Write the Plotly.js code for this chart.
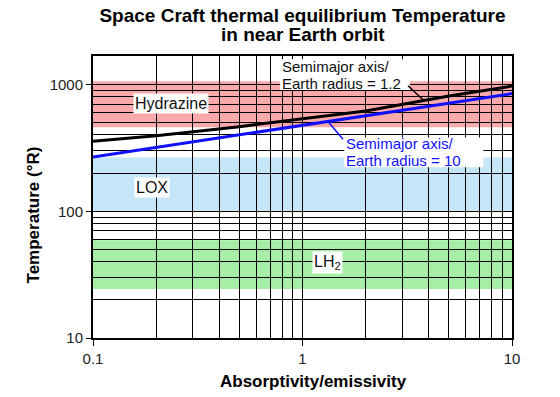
<!DOCTYPE html>
<html>
<head>
<meta charset="utf-8">
<script src="https://cdn.plot.ly/plotly-3.0.1.min.js"></script>
<style>html,body{margin:0;padding:0;background:#fff;}#chart{width:560px;height:397px;}</style>
</head>
<body>
<div id="chart"></div>
<script>
// ---- data ----
var ratio = [0.1, 0.2, 0.5, 1, 2, 5, 10];                 // absorptivity / emissivity
var tempRadius12 = [357, 395, 465, 533, 618, 812, 972];     // °R, semimajor axis / Earth radius = 1.2
var tempRadius10 = [268, 319, 401, 477, 567, 713, 848];     // °R, semimajor axis / Earth radius = 10

var bandNames = ['Hydrazine', 'LOX', 'LH<sub>2</sub>'];
var bandLow  = [460, 101, 24.4];
var bandHigh = [1060, 265, 59];

var xTickVals = [0.1, 1, 10];
var xTickText = ['0.1', '1', '10'];
var yTickVals = [10, 100, 1000];
var yTickText = ['10', '100', '1000'];

// ---- styles ----
var bandFill = ['#f9a9a9', '#c4e6f8', '#a6eea6'];
var BLUE = '#1010ff';
var L = Math.log10;

var xMinor = [], yMinor = [];
[0.1, 1].forEach(function (d) { for (var k = 2; k <= 9; k++) xMinor.push(d * k); });
[10, 100, 1000].forEach(function (d) { for (var k = 2; k <= 9; k++) yMinor.push(d * k); });

var shapes = bandNames.map(function (n, i) {
  return {type: 'rect', xref: 'paper', yref: 'y', x0: 0, x1: 1,
          y0: bandLow[i], y1: bandHigh[i], fillcolor: bandFill[i],
          line: {width: 0}, layer: 'below'};
});
// white boxes behind the two curve labels
shapes.push({type: 'rect', xref: 'x', yref: 'y', x0: 0.78, x1: 3.25, y0: 905, y1: 1580,
             fillcolor: '#fff', line: {width: 0}, layer: 'above'});
shapes.push({type: 'rect', xref: 'x', yref: 'y', x0: 1.58, x1: 7.3, y0: 222, y1: 382,
             fillcolor: '#fff', line: {width: 0}, layer: 'above'});
// leader lines from the labels to the curves
shapes.push({type: 'line', xref: 'x', yref: 'y', x0: 3.76, y0: 759, x1: 3.19, y1: 978,
             line: {color: '#000', width: 1.5}, layer: 'above'});
shapes.push({type: 'line', xref: 'x', yref: 'y', x0: 1.323, y0: 510, x1: 1.561, y1: 370,
             line: {color: BLUE, width: 1.5}, layer: 'above'});

var traces = [
  {x: ratio, y: tempRadius12, mode: 'lines', line: {color: '#000000', width: 3}, hoverinfo: 'skip'},
  {x: ratio, y: tempRadius10, mode: 'lines', line: {color: BLUE, width: 3}, hoverinfo: 'skip'}
];

var F = 'Liberation Sans, Arial, Helvetica, sans-serif';
function txt(t, x, y, color, anchor, bg, size) {
  var a = {text: t, x: L(x), y: L(y), xref: 'x', yref: 'y', showarrow: false,
          xanchor: anchor || 'center', yanchor: 'middle', borderpad: 1,
          font: {family: F, size: size || 16, color: color}};
  if (bg) a.bgcolor = '#ffffff';
  return a;
}

var annotations = [
  txt(bandNames[0], 0.2356, 714, '#111', 'center', true),
  txt(bandNames[1], 0.191, 154.6, '#111', 'center', true),
  txt(bandNames[2], 1.32, 39.5, '#111', 'center', true),
  txt('Semimajor axis/', 0.781, 1388, '#111', 'left', false, 15),
  txt('Earth radius = 1.2', 0.781, 1028, '#111', 'left', false, 15),
  txt('Semimajor axis/', 1.578, 340, BLUE, 'left', false, 15),
  txt('Earth radius = 10', 1.578, 252, BLUE, 'left', false, 15),
  // title line 2
  {text: 'in near Earth orbit', xref: 'paper', yref: 'paper', x: 0.5, y: (338 - 35) / 282,
   xanchor: 'center', yanchor: 'middle', showarrow: false,
   font: {family: F, size: 19, color: '#000', weight: 'bold'}},
  // axis titles
  {text: 'Absorptivity/emissivity', xref: 'paper', yref: 'paper', x: 0.5274, y: -0.156,
   xanchor: 'center', yanchor: 'middle', showarrow: false,
   font: {family: F, size: 17, color: '#000', weight: 'bold'}},
  {text: 'Temperature (°R)', xref: 'paper', yref: 'paper', x: -0.1422, y: 0.436,
   xanchor: 'center', yanchor: 'middle', showarrow: false, textangle: -90,
   font: {family: F, size: 17, color: '#000', weight: 'bold'}}
];

var axisCommon = {
  showline: true, linecolor: '#000', linewidth: 2, mirror: true,
  ticks: 'outside', ticklen: 5, tickcolor: '#000', tickwidth: 1,
  showgrid: true, gridcolor: '#000', gridwidth: 1, zeroline: false,
  tickfont: {family: F, size: 15, color: '#222'}, tickmode: 'array'
};

var layout = {
  width: 560, height: 397,
  margin: {l: 93, r: 48, t: 56, b: 59},
  paper_bgcolor: '#fff', plot_bgcolor: '#fff',
  showlegend: false,
  title: {text: 'Space Craft thermal equilibrium Temperature', x: 0.5, xref: 'paper',
          y: 1 - 15 / 397, yref: 'container', yanchor: 'middle',
          font: {family: F, size: 19, color: '#000', weight: 'bold'}},
  xaxis: Object.assign({}, axisCommon, {type: 'log', range: [-1, 1],
          tickvals: xTickVals, ticktext: xTickText, ticklen: 6,
          minor: {tickmode: 'array', tickvals: xMinor, showgrid: true, gridcolor: '#000', gridwidth: 1, ticks: ''}}),
  yaxis: Object.assign({}, axisCommon, {type: 'log', range: [1, 3.225],
          tickvals: yTickVals, ticktext: yTickText,
          minor: {tickmode: 'array', tickvals: yMinor, showgrid: true, gridcolor: '#000', gridwidth: 1, ticks: ''}}),
  shapes: shapes,
  annotations: annotations
};

Plotly.newPlot('chart', traces, layout, {staticPlot: true, displayModeBar: false});
</script>
</body>
</html>
